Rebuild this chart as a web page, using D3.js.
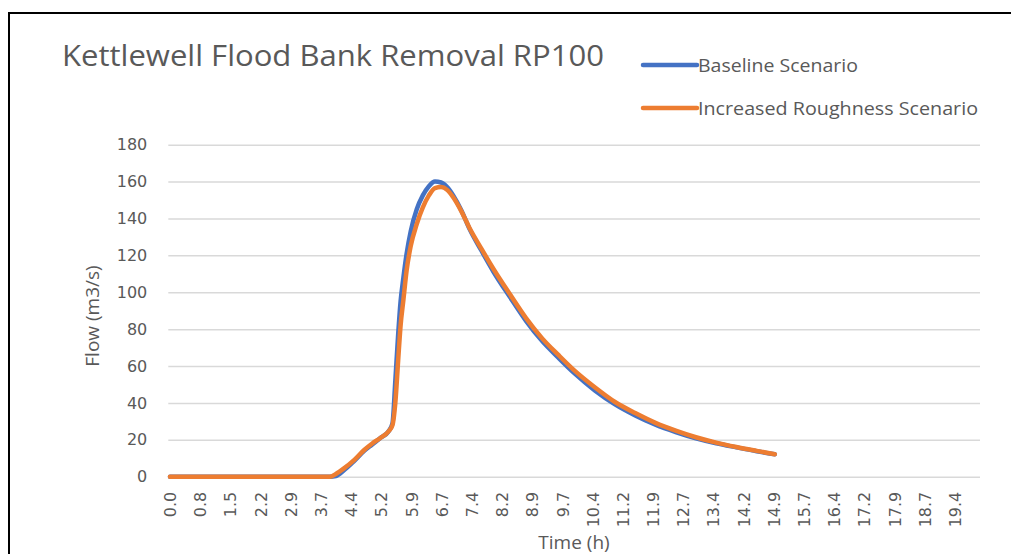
<!DOCTYPE html>
<html>
<head>
<meta charset="utf-8">
<script src="https://cdn.jsdelivr.net/npm/d3@7"></script>
<style>
  body { margin: 0; background: #fff; }
  text { fill: #595959; }
</style>
</head>
<body>
<div id="block"></div>
<script>
// data
var timeHours = [0, 3.95, 4.1, 4.3, 4.55, 4.8, 5.0, 5.2, 5.4, 5.5, 5.57, 5.64, 5.7, 5.77, 5.85, 5.95,
                 6.1, 6.25, 6.4, 6.55, 6.7, 6.85, 7.0, 7.2, 7.4, 7.7, 8.0, 8.4, 8.8, 9.2, 9.6, 10.0,
                 10.5, 11.0, 11.5, 12.0, 12.5, 13.0, 13.5, 14.0, 14.5, 14.95];
var baselineFlow = [0, 0, 0.4, 3.5, 8.5, 14, 17.5, 21, 24.5, 29, 52, 77, 95, 108, 121, 133,
                    145, 152.5, 157.5, 160, 159.5, 157, 152.5, 144.5, 134.5, 122.5, 111, 97.5, 84.5, 73.5, 64.5, 56,
                    46.8, 39.2, 33.2, 28.2, 24.2, 20.8, 18.1, 15.9, 13.8, 12.2];
var roughnessFlow = [0, 0, 1.5, 4.5, 9, 14.5, 18, 21, 24.5, 28, 40, 63, 82, 96, 112, 125,
                     137, 146, 152.5, 156.5, 157, 155.5, 151.5, 144, 135, 123.5, 112.5, 99, 86, 75, 66, 57.5,
                     48.5, 40.5, 34.5, 29.2, 25, 21.4, 18.5, 16.1, 14, 12.2];
var seriesNames = ["Baseline Scenario", "Increased Roughness Scenario"];
var seriesColors = ["#4472c4", "#ed7d31"];
var xTickLabels = ["0.0", "0.8", "1.5", "2.2", "2.9", "3.7", "4.4", "5.2", "5.9", "6.7", "7.4", "8.2", "8.9",
                   "9.7", "10.4", "11.2", "11.9", "12.7", "13.4", "14.2", "14.9", "15.7", "16.4", "17.2",
                   "17.9", "18.7", "19.4"];
var yTickValues = [0, 20, 40, 60, 80, 100, 120, 140, 160, 180];

// category axis: 242 time steps, a label every 9 steps
var nSteps = 242, labelEvery = 9, step = 19.4 / 234;

var svg_dx = 1011, svg_dy = 554,
    plot = {left: 168.3, right: 980, top: 144.7, bottom: 476.7};

var svg = d3.select("#block")
            .append("svg")
            .attr("width", svg_dx)
            .attr("height", svg_dy)
            .style("font-family", "'Open Sans', sans-serif");

// chart frame (runs off the right and bottom edges)
svg.append("path")
   .attr("d", "M9,560V13H1020")
   .attr("fill", "none")
   .attr("stroke", "#000")
   .attr("stroke-width", 2);

var xScale = d3.scaleLinear()
               .domain([-0.5 * step, (nSteps - 0.5) * step])
               .range([plot.left, plot.right]);

var yScale = d3.scaleLinear()
               .domain([0, 180])
               .range([plot.bottom, plot.top]);

// gridlines + y labels
var yAxis = d3.axisLeft(yScale)
              .tickValues(yTickValues)
              .tickSize(-(plot.right - plot.left))
              .tickPadding(21)
              .tickFormat(d3.format("d"));

var y_axis = svg.append("g")
                .attr("transform", "translate(" + plot.left + ",0)")
                .call(yAxis);
y_axis.select(".domain").remove();
y_axis.selectAll(".tick line").attr("stroke", "#d9d9d9").attr("stroke-width", 1.5);
y_axis.selectAll(".tick text")
      .attr("fill", "#595959")
      .style("font-family", "'DejaVu Sans', sans-serif")
      .style("font-size", "16px");

// x labels, rotated
var xTickPos = xTickLabels.map(function(l, i) { return i * labelEvery * step; });
var xAxis = d3.axisBottom(xScale)
              .tickValues(xTickPos)
              .tickSize(0)
              .tickFormat(function(d, i) { return xTickLabels[i]; });

var x_axis = svg.append("g")
                .attr("transform", "translate(0," + plot.bottom + ")")
                .call(xAxis);
x_axis.select(".domain").remove();
x_axis.selectAll(".tick text")
      .attr("fill", "#595959")
      .style("font-family", "'DejaVu Sans', sans-serif")
      .style("font-size", "16px")
      .attr("text-anchor", "end")
      .attr("transform", "rotate(-90)")
      .attr("x", -15)
      .attr("y", 0)
      .attr("dy", "0.35em");

// lines
var line = d3.line()
             .x(function(d) { return xScale(d[0]); })
             .y(function(d) { return yScale(d[1]); })
             .curve(d3.curveMonotoneX);

[baselineFlow, roughnessFlow].forEach(function(flow, k) {
    svg.append("path")
       .datum(timeHours.map(function(t, i) { return [t, flow[i]]; }))
       .attr("fill", "none")
       .attr("stroke", seriesColors[k])
       .attr("stroke-width", 4.5)
       .attr("stroke-linejoin", "round")
       .attr("stroke-linecap", "round")
       .attr("d", line);
});

// title
svg.append("text")
   .attr("x", 62)
   .attr("y", 66)
   .attr("textLength", 542)
   .attr("lengthAdjust", "spacingAndGlyphs")
   .style("font-size", "29px")
   .text("Kettlewell Flood Bank Removal RP100");

// legend
var legendY = [65, 108], legendW = [160, 280];
seriesNames.forEach(function(name, k) {
    svg.append("line")
       .attr("x1", 643).attr("x2", 697)
       .attr("y1", legendY[k]).attr("y2", legendY[k])
       .attr("stroke", seriesColors[k])
       .attr("stroke-width", 4.5)
       .attr("stroke-linecap", "round");
    svg.append("text")
       .attr("x", 698)
       .attr("y", legendY[k] + 7)
       .attr("textLength", legendW[k])
       .attr("lengthAdjust", "spacingAndGlyphs")
       .style("font-size", "18px")
       .text(name);
});

// axis titles
svg.append("text")
   .attr("transform", "translate(99,316) rotate(-90)")
   .attr("text-anchor", "middle")
   .style("font-size", "19px")
   .text("Flow (m3/s)");

svg.append("text")
   .attr("x", 574)
   .attr("y", 549)
   .attr("text-anchor", "middle")
   .style("font-size", "19px")
   .text("Time (h)");
</script>
</body>
</html>
